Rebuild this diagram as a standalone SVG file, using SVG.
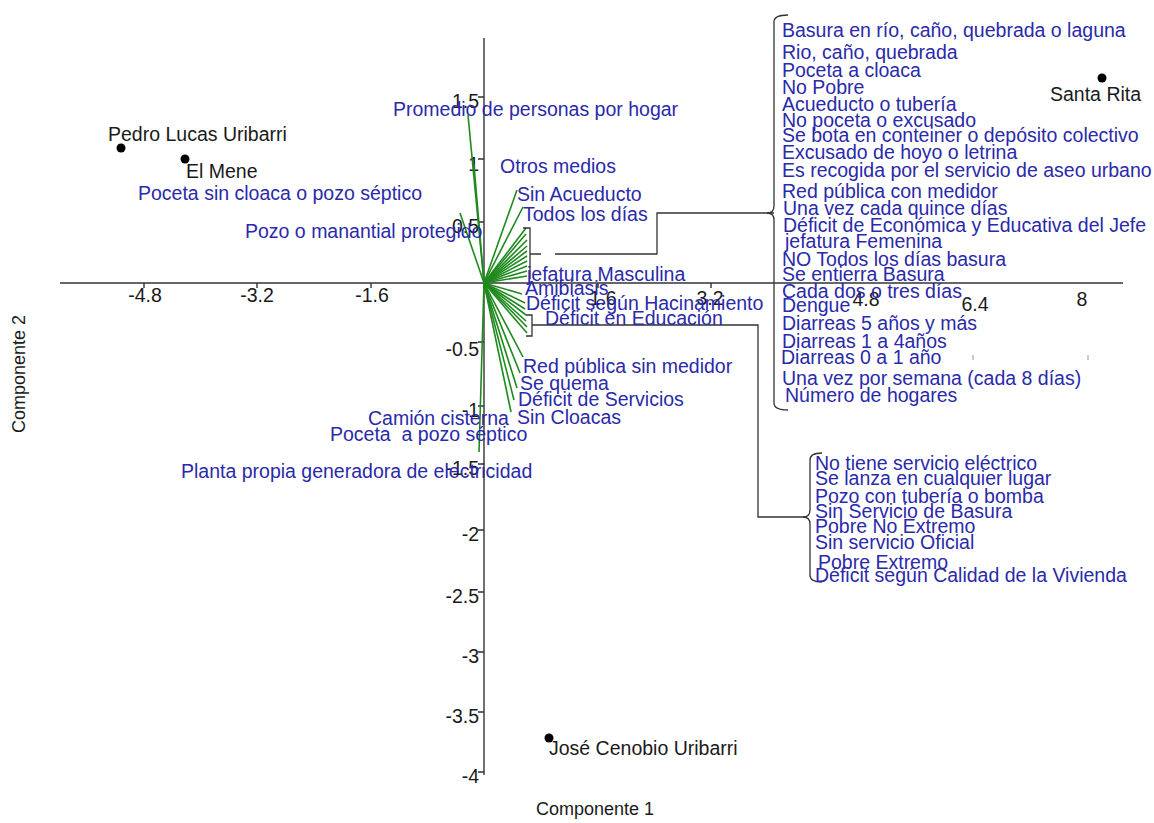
<svg xmlns="http://www.w3.org/2000/svg" width="1154" height="823" viewBox="0 0 1154 823">
<style>
text{font-family:"Liberation Sans",Arial,sans-serif;font-size:19.5px}
.b{fill:#2a2aaa}
.k{fill:#1a1a1a}
.t{fill:#1a1a1a;text-anchor:middle}
.ty{fill:#1a1a1a;text-anchor:end}
.ax{stroke:#333;stroke-width:1.4;fill:none}
.ray{stroke:#1e8a1e;stroke-width:1.6}
.con{stroke:#333;stroke-width:1.3;fill:none}
</style>
<rect width="1154" height="823" fill="#fff"/>
<g id="axes">
<line class="ax" x1="60" y1="283" x2="1123" y2="283"/>
<line class="ax" x1="484" y1="38" x2="484" y2="775"/>
<path class="ax" d="M144,283v5M257,283v5M371,283v5M598,283v5M711,283v5"/>
<path class="ax" d="M478,97h6M478,159h6M478,222h6M478,342h6M478,406h6M478,464h6M478,530h6M478,592h6M478,652h6M478,712h6M478,772h6"/>
<path stroke="#999" stroke-width="1" d="M973,355v5M1088,355v5"/>
<text class="t" x="145" y="302">-4.8</text>
<text class="t" x="257" y="302">-3.2</text>
<text class="t" x="372" y="302">-1.6</text>
<text class="t" x="603" y="305">1.6</text>
<text class="t" x="710" y="305">3.2</text>
<text class="t" x="866" y="306">4.8</text>
<text class="t" x="975" y="311">6.4</text>
<text class="t" x="1082" y="306">8</text>
<text class="ty" x="479" y="108">1.5</text>
<text class="ty" x="479" y="171">1</text>
<text class="ty" x="479" y="233">0.5</text>
<text class="ty" x="479" y="356">-0.5</text>
<text class="ty" x="479" y="417">-1</text>
<text class="ty" x="479" y="475">-1.5</text>
<text class="ty" x="479" y="541">-2</text>
<text class="ty" x="479" y="603">-2.5</text>
<text class="ty" x="479" y="663">-3</text>
<text class="ty" x="479" y="723">-3.5</text>
<text class="ty" x="479" y="783">-4</text>
<text class="t" x="595" y="815" style="font-size:18px">Componente 1</text>
<text class="t" transform="translate(25,374) rotate(-90)" style="font-size:18px">Componente 2</text>
</g>
<g id="connectors">
<g id="rays" class="ray">
<line x1="484" y1="283" x2="468" y2="115"/>
<line x1="484" y1="283" x2="474" y2="165"/>
<line x1="484" y1="283" x2="460" y2="213"/>
<line x1="484" y1="283" x2="517" y2="190"/>
<line x1="484" y1="283" x2="523" y2="207"/>
<line x1="484" y1="283" x2="526" y2="228"/>
<line x1="484" y1="283" x2="526" y2="234"/>
<line x1="484" y1="283" x2="527" y2="240"/>
<line x1="484" y1="283" x2="527" y2="246"/>
<line x1="484" y1="283" x2="527" y2="251"/>
<line x1="484" y1="283" x2="527" y2="256"/>
<line x1="484" y1="283" x2="527" y2="261"/>
<line x1="484" y1="283" x2="527" y2="266"/>
<line x1="484" y1="283" x2="527" y2="271"/>
<line x1="484" y1="283" x2="527" y2="276"/>
<line x1="484" y1="283" x2="522" y2="294"/>
<line x1="484" y1="283" x2="525" y2="303"/>
<line x1="484" y1="283" x2="525" y2="309"/>
<line x1="484" y1="283" x2="526" y2="315"/>
<line x1="484" y1="283" x2="526" y2="321"/>
<line x1="484" y1="283" x2="527" y2="327"/>
<line x1="484" y1="283" x2="527" y2="333"/>
<line x1="484" y1="283" x2="523" y2="357"/>
<line x1="484" y1="283" x2="520" y2="373"/>
<line x1="484" y1="283" x2="517" y2="388"/>
<line x1="484" y1="283" x2="514" y2="400"/>
<line x1="484" y1="283" x2="511" y2="412"/>
<line x1="484" y1="283" x2="479" y2="452"/>
</g>
<path class="con" d="M523,228H530V279"/>
<path class="con" d="M530,254H541M555,254H657V213H774"/>
<path class="con" d="M526,315H532V336H526M532,325H758V517H806"/>
<path class="con" d="M788,15Q774,15 774,22V206Q774,213 767,213Q774,213 774,220V403Q774,410 788,410"/>
<path class="con" d="M822,453Q810,453 810,460V510Q810,517 803,517Q810,517 810,524V575Q810,582 822,582"/>
</g>
<g id="obs-pedro"><circle cx="121" cy="148" r="4.5" fill="#000"/><text class="k" x="108" y="141">Pedro Lucas Uribarri</text></g>
<g id="obs-elmene"><circle cx="185" cy="159" r="4.5" fill="#000"/><text class="k" x="186" y="178">El Mene</text></g>
<g id="obs-santarita"><circle cx="1102" cy="78" r="4.5" fill="#000"/><text class="k" x="1050" y="101">Santa Rita</text></g>
<g id="obs-jose"><circle cx="549" cy="738" r="4.5" fill="#000"/><text class="k" x="549" y="755">José Cenobio Uribarri</text></g>
<g id="var-left">
<g id="v1"><text class="b" x="393" y="116">Promedio de personas por hogar</text></g>
<g id="v2"><text class="b" x="500" y="173">Otros medios</text></g>
<g id="v3"><text class="b" x="517" y="201">Sin Acueducto</text></g>
<g id="v4"><text class="b" x="523" y="221">Todos los días</text></g>
<g id="v5"><text class="b" x="138" y="200">Poceta sin cloaca o pozo séptico</text></g>
<g id="v6"><text class="b" x="245" y="238">Pozo o manantial protegido</text></g>
<g id="v7"><text class="b" x="527" y="281">jefatura Masculina</text></g>
<g id="v8"><text class="b" x="525" y="295">Amibiasis</text></g>
<g id="v9"><text class="b" x="526" y="310">Déficit según Hacinamiento</text></g>
<g id="v10"><text class="b" x="545" y="325">Déficit en Educación</text></g>
<g id="v11"><text class="b" x="523" y="373">Red pública sin medidor</text></g>
<g id="v12"><text class="b" x="520" y="390">Se quema</text></g>
<g id="v13"><text class="b" x="518" y="406">Déficit de Servicios</text></g>
<g id="v14"><text class="b" x="517" y="424">Sin Cloacas</text></g>
<g id="v15"><text class="b" x="368" y="425">Camión cisterna</text></g>
<g id="v16"><text class="b" x="330" y="441" xml:space="preserve">Poceta  a pozo séptico</text></g>
<g id="v17"><text class="b" x="181" y="478">Planta propia generadora de electricidad</text></g>
</g>
<g id="group-1">
<text class="b" x="782" y="37">Basura en río, caño, quebrada o laguna</text>
<text class="b" x="782" y="59">Rio, caño, quebrada</text>
<text class="b" x="782" y="77">Poceta a cloaca</text>
<text class="b" x="782" y="94">No Pobre</text>
<text class="b" x="782" y="111">Acueducto o tubería</text>
<text class="b" x="782" y="127">No poceta o excusado</text>
<text class="b" x="782" y="142">Se bota en conteiner o depósito colectivo</text>
<text class="b" x="782" y="159">Excusado de hoyo o letrina</text>
<text class="b" x="782" y="177">Es recogida por el servicio de aseo urbano</text>
<text class="b" x="782" y="198">Red pública con medidor</text>
<text class="b" x="783" y="215">Una vez cada quince días</text>
<text class="b" x="783" y="232">Déficit de Económica y Educativa del Jefe</text>
<text class="b" x="785" y="248">jefatura Femenina</text>
<text class="b" x="782" y="266">NO Todos los días basura</text>
<text class="b" x="782" y="281">Se entierra Basura</text>
<text class="b" x="782" y="298">Cada dos o tres días</text>
<text class="b" x="782" y="312">Dengue</text>
<text class="b" x="782" y="330">Diarreas 5 años y más</text>
<text class="b" x="782" y="348">Diarreas 1 a 4años</text>
<text class="b" x="781" y="364">Diarreas 0 a 1 año</text>
<text class="b" x="782" y="385">Una vez por semana (cada 8 días)</text>
<text class="b" x="785" y="402">Número de hogares</text>
</g>
<g id="group-2">
<text class="b" x="815" y="470">No tiene servicio eléctrico</text>
<text class="b" x="815" y="485">Se lanza en cualquier lugar</text>
<text class="b" x="815" y="503">Pozo con tubería o bomba</text>
<text class="b" x="815" y="518">Sin Servicio de Basura</text>
<text class="b" x="815" y="533">Pobre No Extremo</text>
<text class="b" x="815" y="549">Sin servicio Oficial</text>
<text class="b" x="818" y="569">Pobre Extremo</text>
<text class="b" x="815" y="582">Déficit según Calidad de la Vivienda</text>
</g>
</svg>
